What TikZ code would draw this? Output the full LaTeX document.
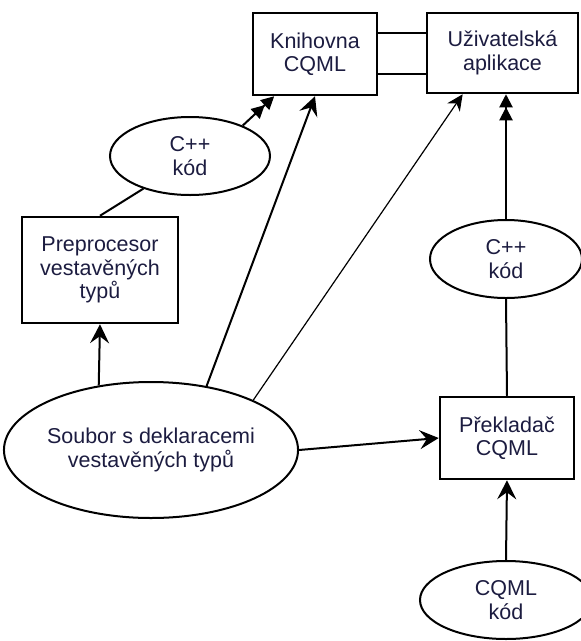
\documentclass[tikz,border=0pt]{standalone}
\usepackage{fontspec}
\setmainfont{Liberation Sans}
\usetikzlibrary{arrows.meta}
\usetikzlibrary{shapes.geometric}
\definecolor{textnavy}{RGB}{28,28,64}
\tikzset{>={Stealth[length=19pt,width=19pt,inset=7pt]}}
\tikzset{
	% boxes and ellipses
	krok/.style={draw=black,line width=2.5pt,rectangle,inner sep=0pt,align=center,
		text=textnavy,font=\fontsize{21.5}{23.5}\selectfont},
	soubor/.style={draw=black,line width=2pt,ellipse,inner sep=0pt,align=center,
		text=textnavy,font=\fontsize{21.5}{23.5}\selectfont},
	% connectors
	spoj/.style={line width=2pt},
	tenky/.style={line width=1.2pt},
	dvoj/.style={-{Triangle[length=13pt,width=13pt] Triangle[length=13pt,width=13pt]}},
}
\begin{document}
\begin{tikzpicture}[x=1pt,y=-1pt]
\useasboundingbox (0,0) rectangle (581,641);
% the boxes
\node[krok,minimum width=124pt,minimum height=82pt] (knih) at (315,54) {Knihovna\\CQML};
\node[krok,minimum width=151pt,minimum height=80pt] (uziv) at (502.5,53) {Uživatelská\\aplikace};
\node[krok,minimum width=156pt,minimum height=106pt] (prep) at (100,270) {Preprocesor\\vestavěných\\typů};
\node[krok,minimum width=134pt,minimum height=82pt] (prek) at (507,438) {Překladač\\CQML};
% the ellipses
\node[soubor,minimum width=160pt,minimum height=78pt] (cppl) at (190,156) {C++\\kód};
\node[soubor,minimum width=152pt,minimum height=78pt] (cppr) at (506,259) {C++\\kód};
\node[soubor,minimum width=276pt,minimum height=136pt] (decl) at (151,450) {Soubor s deklaracemi\\vestavěných typů};
\node[soubor,minimum width=172pt,minimum height=78pt] (cqml) at (506,600) {CQML\\kód};
% knihovna -- aplikace
\draw[spoj] ([yshift=-20pt]knih.east) -- ([yshift=-20pt]knih.east -| uziv.west);
\draw[spoj] ([yshift=21pt]knih.east) -- ([yshift=21pt]knih.east -| uziv.west);
% the arrows
\draw[spoj,->] (decl.129) -- (prep.south);
\draw[spoj] (prep.north) -- (cppl.215);
\draw[spoj,dvoj] (cppl.30) -- (knih.226);
\draw[spoj,->] (decl.49) -- (knih.south);
\draw[tenky,-{Stealth[length=16pt,width=15pt,inset=5pt]}] (decl.26) -- (uziv.226);
\draw[spoj,->] (decl.east) -- (prek.west);
\draw[spoj,->] (cqml.north) -- (prek.south);
\draw[spoj] (prek.north) -- (cppr.south);
\draw[spoj,dvoj] (cppr.north) -- (cppr.north |- uziv.south);
\end{tikzpicture}
\end{document}
